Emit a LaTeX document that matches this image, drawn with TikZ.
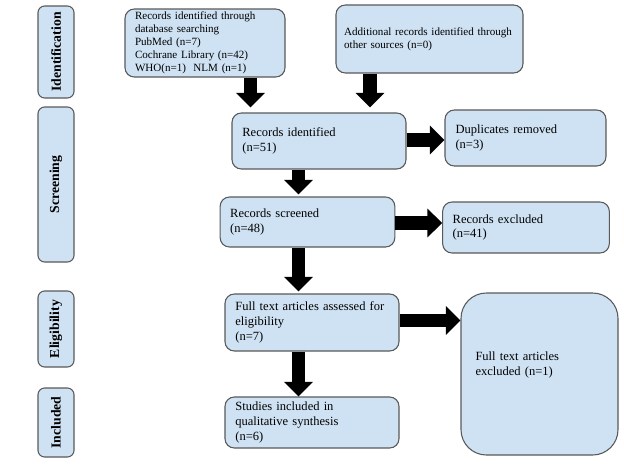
\documentclass[tikz,border=0pt]{standalone}
\usepackage{fontspec}
\setmainfont{Liberation Serif}
\usetikzlibrary{arrows.meta}
\definecolor{boxfill}{HTML}{CFE2F3}
\definecolor{boxline}{HTML}{595959}
\tikzset{
  box/.style={draw=boxline, fill=boxfill, line width=0.8pt, rounded corners=7pt,
    align=left, inner xsep=7.5pt, inner ysep=1pt,
    font=\fontsize{9.4}{11}\selectfont},
  smallbox/.style={box, font=\fontsize{8.3}{9.7}\selectfont},
  stage/.style={draw=boxline, fill=boxfill, line width=0.8pt, rounded corners=5pt,
    rotate=90, minimum height=27pt, inner sep=1pt,
    font=\fontsize{10.3}{12}\selectfont\bfseries},
  blk/.style={line width=10pt, -{Triangle[width=21pt,length=11pt]}},
}
\begin{document}
\begin{tikzpicture}[x=0.75pt,y=-0.75pt]
\useasboundingbox (0,0) rectangle (624,468);
% stage labels
\node[stage, minimum width=69pt] (s1) at (56,52) {Identification};
\node[stage, minimum width=116.25pt] (s2) at (56,184.5) {Screening};
\node[stage, minimum width=57pt] (s3) at (56,329) {Eligibility};
\node[stage, minimum width=51.75pt] (s4) at (56,422.5) {Included};
% boxes
\node[smallbox, minimum width=120pt, minimum height=51pt, text width=105pt] (a) at (205,43)
  {Records identified through\\database searching\\PubMed (n=7)\\Cochrane Library (n=42)\\WHO(n=1)\ \ NLM (n=1)};
\node[smallbox, inner xsep=6pt, minimum width=140.25pt, minimum height=51pt, text width=128pt] (b) at (429.5,39)
  {Additional records identified through\\other sources (n=0)};
\node[box, minimum width=130.5pt, minimum height=42pt, text width=115pt] (c) at (319,141)
  {Records identified\\(n=51)};
\node[box, minimum width=120.75pt, minimum height=42pt, text width=105pt] (d) at (525.5,138)
  {Duplicates removed\\(n=3)};
\node[box, minimum width=129.75pt, minimum height=37.5pt, text width=116pt] (e) at (307.5,222)
  {Records screened\\(n=48)};
\node[box, minimum width=124.5pt, minimum height=38.25pt, text width=110pt] (f) at (526,227.5)
  {Records excluded\\(n=41)};
\node[box, minimum width=130.5pt, minimum height=42.75pt, text width=115pt] (g) at (312,322.5)
  {Full text articles assessed for\\eligibility\\(n=7)};
\node[box, rounded corners=19pt, inner xsep=10.5pt, minimum width=117.75pt, minimum height=121.5pt, text width=96pt] (h) at (539.5,374)
  {\raisebox{4.5pt}[0pt][0pt]{\parbox{96pt}{Full text articles\\excluded (n=1)}}};
\node[box, minimum width=130.5pt, minimum height=38.25pt, text width=115pt] (i) at (312,422.5)
  {Studies included in\\qualitative synthesis\\(n=6)};
% arrows
\draw[blk] (250.5,0 |- a.south) -- ([yshift=3.75pt]250.5,0 |- c.north);
\draw[blk] (370,0 |- b.south) -- ([yshift=3.75pt]370,0 |- c.north);
\draw[blk] (c.east |- 0,140) -- (d.west |- 0,140);
\draw[blk] (298.5,0 |- c.south) -- ([yshift=1.5pt]298.5,0 |- e.north);
\draw[blk] (e.east |- 0,223) -- (f.west |- 0,223);
\draw[blk] (298.5,0 |- e.south) -- ([yshift=1.5pt]298.5,0 |- g.north);
\draw[blk] (g.east |- 0,320.5) -- (h.west |- 0,320.5);
\draw[blk] (298.5,0 |- g.south) -- (298.5,0 |- i.north);
\end{tikzpicture}
\end{document}
